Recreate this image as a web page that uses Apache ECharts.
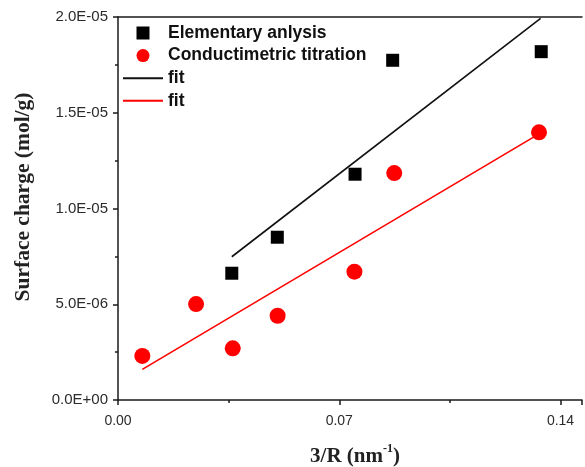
<!DOCTYPE html>
<html><head><meta charset="utf-8">
<script src="https://cdn.jsdelivr.net/npm/echarts@6/dist/echarts.min.js"></script>
<style>html,body{margin:0;padding:0;background:#fff}#c{width:585px;height:467px}</style>
</head><body><div id="c"></div>
<script>
// Data
var elemX = [0.0360, 0.0504, 0.0750, 0.0869, 0.1339];
var elemY = [6.62e-6, 8.50e-6, 11.79e-6, 17.74e-6, 18.19e-6];
var condX = [0.0077, 0.0247, 0.0363, 0.0505, 0.0748, 0.0874, 0.1332];
var condY = [2.30e-6, 5.01e-6, 2.70e-6, 4.40e-6, 6.70e-6, 11.85e-6, 13.98e-6];
var fitBlackX = [0.0360, 0.1337];
var fitBlackY = [7.48e-6, 19.93e-6];
var fitRedX = [0.0077, 0.1332];
var fitRedY = [1.60e-6, 13.90e-6];
var xTickLabels = ['0.00', '0.07', '0.14'];
var yTickLabels = ['0.0E+00', '5.0E-06', '1.0E-05', '1.5E-05', '2.0E-05'];
var seriesNames = ['Elementary anlysis', 'Conductimetric titration', 'fit', 'fit '];

function pairs(xs, ys) { return xs.map(function (x, i) { return [x, ys[i]]; }); }

var chart = echarts.init(document.getElementById('c'), null, {renderer: 'canvas'});
var axisColor = '#1a1a1a';
var labelColor = '#2b2b2b';
var X_MAX = 0.1468;

chart.setOption({
  animation: false,
  backgroundColor: '#fff',
  grid: {left: 118, top: 17, right: 0, bottom: 67, containLabel: false},
  legend: {
    orient: 'vertical', left: 117, top: 19,
    itemWidth: 40, itemHeight: 13, itemGap: 4.6,
    data: [
      {name: seriesNames[0], icon: 'path://M0,0L10,0L10,10L0,10Z'},
      {name: seriesNames[1], icon: 'circle'},
      {name: seriesNames[2], itemStyle: {opacity: 0}},
      {name: seriesNames[3], itemStyle: {opacity: 0}}
    ],
    textStyle: {fontFamily: 'Liberation Sans, Arial', fontWeight: 'bold', fontSize: 17.5, color: '#111'},
    selectedMode: false
  },
  xAxis: [
    {
      type: 'value', min: 0, max: X_MAX, interval: 0.07,
      axisLine: {lineStyle: {color: axisColor, width: 1.5}},
      axisTick: {length: 5, lineStyle: {color: axisColor, width: 1.5}},
      splitLine: {show: false},
      axisLabel: {
        margin: 14, color: labelColor, fontFamily: 'Liberation Sans, Arial', fontSize: 14,
        formatter: function (v) {
          var idx = Math.round(v / 0.07);
          if (Math.abs(v - idx * 0.07) > 1e-9) return '';
          return xTickLabels[idx] || '';
        }
      }
    },
    {
      type: 'value', min: 0, max: X_MAX, interval: 0.035, position: 'bottom', gridIndex: 0,
      axisLine: {show: false},
      axisTick: {length: 3, lineStyle: {color: axisColor, width: 1.5}},
      axisLabel: {show: false}, splitLine: {show: false}
    },
    {
      type: 'value', min: 0, max: X_MAX, position: 'top',
      axisLine: {lineStyle: {color: axisColor, width: 1.5}},
      axisTick: {show: false}, axisLabel: {show: false}, splitLine: {show: false}
    }
  ],
  yAxis: {
    type: 'value', min: 0, max: 2e-5, interval: 5e-6,
    axisLine: {show: true, lineStyle: {color: axisColor, width: 1.5}},
    axisTick: {show: true, length: 5, lineStyle: {color: axisColor, width: 1.5}},
    minorTick: {show: true, splitNumber: 2, length: 3, lineStyle: {color: axisColor, width: 1.5}},
    splitLine: {show: false},
    axisLabel: {
      margin: 10, color: labelColor, fontFamily: 'Liberation Sans, Arial', fontSize: 15,
      formatter: function (v) { return yTickLabels[Math.round(v / 5e-6)] || ''; }
    }
  },
  series: [
    {name: seriesNames[0], type: 'scatter', symbol: 'rect', symbolSize: 13,
     itemStyle: {color: '#000', opacity: 1}, data: pairs(elemX, elemY), z: 3},
    {name: seriesNames[1], type: 'scatter', symbol: 'circle', symbolSize: 16,
     itemStyle: {color: '#ff0000', opacity: 1}, data: pairs(condX, condY), z: 3},
    {name: seriesNames[2], type: 'line', symbol: 'none', showSymbol: false,
     lineStyle: {color: '#111', width: 1.6}, itemStyle: {color: '#111'}, data: pairs(fitBlackX, fitBlackY), z: 2},
    {name: seriesNames[3], type: 'line', symbol: 'none', showSymbol: false,
     lineStyle: {color: '#ff0000', width: 1.6}, itemStyle: {color: '#ff0000'}, data: pairs(fitRedX, fitRedY), z: 2}
  ],
  graphic: [
    {type: 'text', x: 23, y: 197, rotation: Math.PI / 2,
     style: {text: 'Surface charge (mol/g)', font: 'bold 21.5px "Liberation Serif", "Times New Roman", serif',
             fill: '#222', textAlign: 'center', textVerticalAlign: 'middle'}},
    {type: 'text', x: 355, y: 455,
     style: {text: '{a|3/R (nm}{s|-1}{a|)}', textAlign: 'center', textVerticalAlign: 'middle', fill: '#222',
             rich: {
               a: {font: 'bold 21px "Liberation Serif", "Times New Roman", serif', fill: '#222', lineHeight: 24, verticalAlign: 'bottom'},
               s: {font: 'bold 12px "Liberation Serif", "Times New Roman", serif', fill: '#222', lineHeight: 24, verticalAlign: 'top'}
             }}}
  ]
});
</script></body></html>
